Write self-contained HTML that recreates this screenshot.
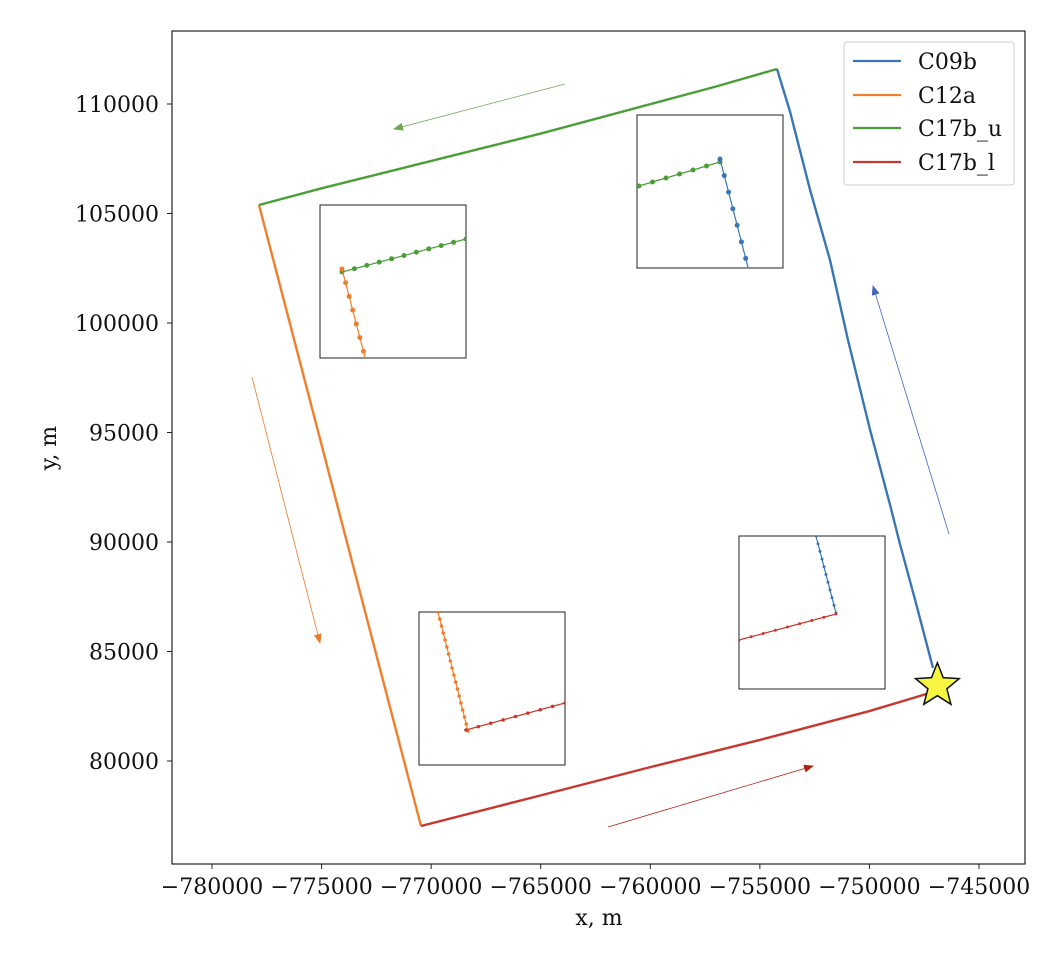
<!DOCTYPE html>
<html><head><meta charset="utf-8"><style>
body{margin:0;background:#fff;}
svg text{font-family:"DejaVu Serif","Liberation Serif",serif;font-size:22px;fill:#111;}
</style></head><body>
<svg id="chart" width="1064" height="954" xmlns="http://www.w3.org/2000/svg">
<defs>
<marker id="ag" markerWidth="10" markerHeight="8" refX="9" refY="4" orient="auto" markerUnits="userSpaceOnUse"><path d="M0,0 L10,4 L0,8z" fill="#6aa84f"/></marker>
<marker id="ao" markerWidth="10" markerHeight="8" refX="9" refY="4" orient="auto" markerUnits="userSpaceOnUse"><path d="M0,0 L10,4 L0,8z" fill="#e57c2e"/></marker>
<marker id="ar" markerWidth="10" markerHeight="8" refX="9" refY="4" orient="auto" markerUnits="userSpaceOnUse"><path d="M0,0 L10,4 L0,8z" fill="#b22010"/></marker>
<marker id="ab" markerWidth="10" markerHeight="8" refX="9" refY="4" orient="auto" markerUnits="userSpaceOnUse"><path d="M0,0 L10,4 L0,8z" fill="#3d64c4"/></marker>
</defs>
<g id="ticks"></g>
<g id="lines"></g>
<g id="insets"></g>
<rect x="172" y="31" width="853" height="833" fill="none" stroke="#222" stroke-width="1.2"/>
<text x="599" y="925" text-anchor="middle">x, m</text>
<text x="56" y="448" text-anchor="middle" transform="rotate(-90 56 448)">y, m</text>
<g>
<rect x="844" y="42" width="170" height="143" rx="3" fill="#fff" stroke="#ccc"/>
<line x1="853" y1="61" x2="901" y2="61" stroke="#3a76b4" stroke-width="2.2"/>
<text x="918" y="69">C09b</text>
<line x1="853" y1="95" x2="901" y2="95" stroke="#ef7f2c" stroke-width="2.2"/>
<text x="918" y="103">C12a</text>
<line x1="853" y1="128" x2="901" y2="128" stroke="#4a9e38" stroke-width="2.2"/>
<text x="918" y="136">C17b_u</text>
<line x1="853" y1="162" x2="901" y2="162" stroke="#c8372d" stroke-width="2.2"/>
<text x="918" y="170">C17b_l</text>
</g>
</svg>
<script>
const xTicks=[-780000,-775000,-770000,-765000,-760000,-755000,-750000,-745000];
const yTicks=[80000,85000,90000,95000,100000,105000,110000];
const c09bX=[-754217,-753620,-752710,-751800,-750980,-749970,-749060,-748600,-747920,-747100];
const c09bY=[111598,109640,106080,102880,99230,95120,91700,89880,87370,84250];
const c12aX=[-777855,-770463];
const c12aY=[105388,77032];
const c17buX=[-777855,-775000,-765000,-757000,-754217];
const c17buY=[105388,106150,108650,110800,111598];
const c17blX=[-770463,-765000,-760000,-755000,-750000,-746950];
const c17blY=[77032,78430,79720,80960,82280,83196];
const starXY=[-746900,83440];

const svgNS="http://www.w3.org/2000/svg";
const px=x=>212+(x+780000)*767/35000;
const py=y=>761-(y-80000)*657/30000;
function mk(tag,attrs,parent){const e=document.createElementNS(svgNS,tag);for(const k in attrs)e.setAttribute(k,attrs[k]);parent.appendChild(e);return e;}
const T=document.getElementById('ticks');
xTicks.forEach(v=>{
  const l=mk('line',{x1:px(v),x2:px(v),y1:864,y2:869,stroke:'#222'},T);
  
  
  const t=mk('text',{x:px(v),y:894,'text-anchor':'middle'},T);t.textContent='\u2212'+Math.abs(v);
  
  
});
yTicks.forEach(v=>{
  const l=mk('line',{x1:167,x2:172,y1:py(v),y2:py(v),stroke:'#222'},T);
  
  
  const t=mk('text',{x:159,y:py(v)+8,'text-anchor':'end'},T);t.textContent=v;
  
  
});
const L=document.getElementById('lines');
function series(xs,ys,col,name){
  const p=mk('polyline',{points:xs.map((x,i)=>px(x)+','+py(ys[i])).join(' '),fill:'none',stroke:col,'stroke-width':2.4,'stroke-linejoin':'round'},L);
  
  
}
series(c12aX,c12aY,'#ef7f2c','line-c12a');
series(c17buX,c17buY,'#4a9e38','line-c17b-u');
series(c17blX,c17blY,'#c8372d','line-c17b-l');
series(c09bX,c09bY,'#3a76b4','line-c09b');
[[565,84,394,129,'#6aa84f','ag','arrow-c17b-u'],[252,377,320,643,'#e57c2e','ao','arrow-c12a'],[608,827,813,766,'#b22010','ar','arrow-c17b-l'],[949,534,873,286,'#3d64c4','ab','arrow-c09b']].forEach(a=>{
  const l=mk('line',{x1:a[0],y1:a[1],x2:a[2],y2:a[3],stroke:a[4],'stroke-width':0.8,'marker-end':'url(#'+a[5]+')'},L);
  
  
});
(function(){const cx=px(starXY[0]),cy=py(starXY[1]),R=23,r=10;let pts=[];
for(let i=0;i<10;i++){const a=-Math.PI/2+i*Math.PI/5,rr=i%2?r:R;pts.push((cx+rr*Math.cos(a)).toFixed(1)+','+(cy+rr*Math.sin(a)).toFixed(1));}
const s=mk('polygon',{points:pts.join(' '),fill:'#f5f542',stroke:'#111','stroke-width':1.5},L);

})();
const I=document.getElementById('insets');
function inset(x,y,segs,name){
  const g=mk('g',{},I);
  
  
  mk('rect',{x:x,y:y,width:146,height:153,fill:'#fff',stroke:'#222','stroke-width':1},g);
  const clip=mk('clipPath',{id:'c'+name},g);
  mk('rect',{x:x,y:y,width:146,height:153},clip);
  const inner=mk('g',{'clip-path':'url(#c'+name+')'},g);
  segs.forEach(s=>{
    const [x1,y1,x2,y2,col,n,rad]=s;
    mk('line',{x1:x+x1,y1:y+y1,x2:x+x2,y2:y+y2,stroke:col,'stroke-width':1.2},inner);
    for(let i=0;i<=n;i++){mk('circle',{cx:x+x1+(x2-x1)*i/n,cy:y+y1+(y2-y1)*i/n,r:rad,fill:col},inner);}
  });
}
inset(320,205,[[22,67,146,34,'#4a9e38',10,2.5],[22,64,47,160,'#ef7f2c',7,2.5]],'inset-upper-left');
inset(637,115,[[2,71,83,47,'#4a9e38',6,2.5],[83,44,113,160,'#3a76b4',7,2.5]],'inset-upper-right');
inset(419,612,[[19,0,49,119,'#ef7f2c',17,1.8],[47,118,146,91,'#c8372d',8,1.8]],'inset-lower-left');
inset(739,536,[[77,0,97,77,'#3a76b4',10,1.5],[0,104,97,78,'#c8372d',8,1.5]],'inset-lower-right');
</script>
</body></html>
